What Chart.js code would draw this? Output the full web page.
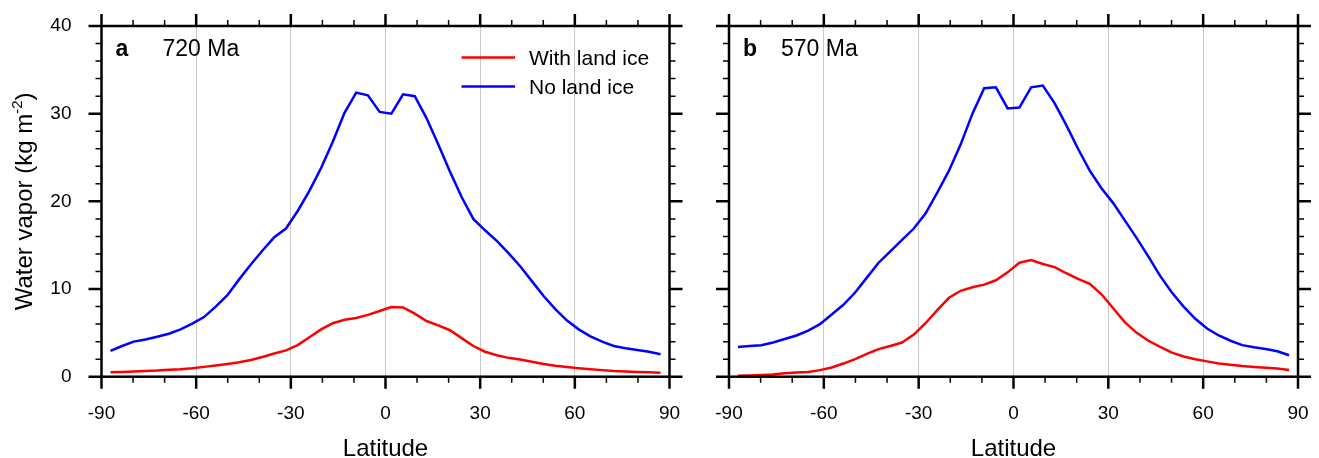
<!DOCTYPE html>
<html>
<head>
<meta charset="utf-8">
<script src="https://cdn.jsdelivr.net/npm/chart.js@4"></script>
<style>
  html, body { margin: 0; padding: 0; background: #ffffff; }
  #wrap { position: relative; width: 1319px; height: 458px; }
  .panel { position: absolute; top: 0; height: 458px; }
  #panelA { left: 0; width: 700px; }
  #panelB { left: 700px; width: 619px; }
</style>
</head>
<body>
<div id="wrap">
  <div class="panel" id="panelA"><canvas id="chartA"></canvas></div>
  <div class="panel" id="panelB"><canvas id="chartB"></canvas></div>
</div>
<script>
// model latitudes (48-point Gaussian grid)
var lats = [-87.16, -83.48, -79.78, -76.07, -72.36, -68.65, -64.94, -61.23, -57.52, -53.81, -50.10, -46.39,
            -42.68, -38.97, -35.26, -31.54, -27.83, -24.12, -20.41, -16.70, -12.99, -9.28, -5.57, -1.86,
            1.86, 5.57, 9.28, 12.99, 16.70, 20.41, 24.12, 27.83, 31.54, 35.26, 38.97, 42.68, 46.39, 50.10,
            53.81, 57.52, 61.23, 64.94, 68.65, 72.36, 76.07, 79.78, 83.48, 87.16];

// panel a, 720 Ma
var aWithIce = [0.5, 0.55, 0.6, 0.65, 0.7, 0.78, 0.85, 0.97, 1.12, 1.28, 1.45, 1.65,
                1.9, 2.25, 2.65, 3.0, 3.6, 4.5, 5.4, 6.1, 6.5, 6.7, 7.05, 7.5,
                7.95, 7.9, 7.2, 6.35, 5.85, 5.3, 4.4, 3.5, 2.85, 2.45, 2.15, 1.95, 1.7, 1.45,
                1.25, 1.1, 0.97, 0.85, 0.75, 0.65, 0.58, 0.53, 0.5, 0.46];
var aNoIce = [2.95, 3.5, 4.0, 4.25, 4.55, 4.9, 5.4, 6.05, 6.8, 8.0, 9.3, 11.1,
              12.8, 14.4, 15.9, 16.9, 18.9, 21.2, 23.8, 26.8, 30.1, 32.4, 32.1, 30.2,
              30.0, 32.2, 32.0, 29.5, 26.5, 23.4, 20.5, 18.0, 16.7, 15.5, 14.1, 12.6, 10.9, 9.2,
              7.7, 6.4, 5.4, 4.6, 4.0, 3.5, 3.25, 3.05, 2.85, 2.55];

// panel b, 570 Ma
var bWithIce = [0.1, 0.13, 0.18, 0.25, 0.38, 0.48, 0.54, 0.75, 1.05, 1.5, 2.0, 2.6,
                3.15, 3.5, 3.9, 4.8, 6.1, 7.6, 9.0, 9.8, 10.2, 10.5, 11.0, 11.9,
                13.0, 13.3, 12.85, 12.5, 11.8, 11.15, 10.6, 9.4, 7.8, 6.2, 5.0, 4.1, 3.4, 2.75,
                2.3, 2.0, 1.75, 1.5, 1.35, 1.22, 1.12, 1.03, 0.93, 0.76];
var bNoIce = [3.4, 3.5, 3.6, 3.9, 4.3, 4.7, 5.25, 6.0, 7.1, 8.2, 9.6, 11.3,
              13.0, 14.3, 15.6, 16.9, 18.6, 21.0, 23.5, 26.5, 30.0, 32.9, 33.0, 30.6,
              30.7, 33.0, 33.2, 31.2, 28.7, 26.0, 23.5, 21.5, 19.8, 17.8, 15.8, 13.7, 11.5, 9.6,
              8.0, 6.6, 5.5, 4.7, 4.1, 3.6, 3.35, 3.15, 2.9, 2.45];

var xTicks = [-90, -60, -30, 0, 30, 60, 90];
var yTicks = [0, 10, 20, 30, 40];
var seriesNames = ['With land ice', 'No land ice'];
var seriesColors = ['#ff0000', '#0000ff'];

var FONT = '"Liberation Sans", Arial, Helvetica, sans-serif';

function pairs(ys) {
    return lats.map(function (lat, i) { return { x: lat, y: ys[i] }; });
}

// frame, outward major/minor ticks on all four sides, texts
var framePlugin = {
    id: 'frame',
    afterDraw: function (chart) {
        var o = chart.options.plugins.frame;
        var ctx = chart.ctx;
        var a = chart.chartArea;
        var xs = chart.scales.x, ys = chart.scales.y;
        ctx.save();
        ctx.strokeStyle = '#000';
        ctx.lineCap = 'butt';

        // x ticks every 10, major every 30
        for (var v = -90; v <= 90; v += 10) {
            var px = xs.getPixelForValue(v);
            var major = v % 30 === 0;
            var len = major ? 12 : 6;
            ctx.lineWidth = major ? 2.5 : 1.5;
            ctx.beginPath();
            ctx.moveTo(px, a.bottom); ctx.lineTo(px, a.bottom + len);
            ctx.moveTo(px, a.top); ctx.lineTo(px, a.top - len);
            ctx.stroke();
        }
        // y ticks every 2, major every 10
        for (var w = 0; w <= 40; w += 2) {
            var py = ys.getPixelForValue(w);
            var maj = w % 10 === 0;
            var l2 = maj ? 13 : 6;
            ctx.lineWidth = maj ? 2.5 : 1.5;
            ctx.beginPath();
            ctx.moveTo(a.left, py); ctx.lineTo(a.left - l2, py);
            ctx.moveTo(a.right, py); ctx.lineTo(a.right + l2, py);
            ctx.stroke();
        }
        ctx.lineWidth = 2.5;
        ctx.strokeRect(a.left, a.top, a.right - a.left, a.bottom - a.top);

        // panel letter and age
        ctx.fillStyle = '#000';
        ctx.textBaseline = 'alphabetic';
        ctx.textAlign = 'left';
        ctx.font = 'bold 23px ' + FONT;
        ctx.fillText(o.letter, a.left + 14, 55.5);
        ctx.font = '23px ' + FONT;
        ctx.fillText(o.age, a.left + o.ageOffset, 55.5);

        // x title
        ctx.textAlign = 'center';
        ctx.font = '24px ' + FONT;
        ctx.fillText('Latitude', (a.left + a.right) / 2, 456);

        // legend
        if (o.legend) {
            ctx.textAlign = 'left';
            ctx.font = '21px ' + FONT;
            chart.data.datasets.forEach(function (ds, i) {
                var ly = 57.5 + i * 29;
                ctx.strokeStyle = ds.borderColor;
                ctx.lineWidth = 2.5;
                ctx.beginPath();
                ctx.moveTo(461.5, ly); ctx.lineTo(515, ly);
                ctx.stroke();
                ctx.fillStyle = '#000';
                ctx.fillText(ds.label, 529, ly + 7.5);
            });
        }

        // y title with superscript
        if (o.yTitle) {
            ctx.translate(32, (a.top + a.bottom) / 2);
            ctx.rotate(-Math.PI / 2);
            ctx.textAlign = 'left';
            var big = '24px ' + FONT, small = '15px ' + FONT;
            ctx.font = big;
            var t1 = 'Water vapor (kg m', t3 = ')';
            var w1 = ctx.measureText(t1).width, w3 = ctx.measureText(t3).width;
            ctx.font = small;
            var w2 = ctx.measureText('-2').width;
            var x0 = -(w1 + w2 + w3) / 2;
            ctx.fillStyle = '#000';
            ctx.font = big;
            ctx.fillText(t1, x0, 0);
            ctx.font = small;
            ctx.fillText('-2', x0 + w1, -10);
            ctx.font = big;
            ctx.fillText(t3, x0 + w1 + w2, 0);
        }
        ctx.restore();
    }
};

function makeChart(id, withIce, noIce, letter, age, showY, yWidth) {
    var ctx = document.getElementById(id).getContext('2d');
    return new Chart(ctx, {
        type: 'line',
        data: {
            datasets: [
                { label: seriesNames[0], data: pairs(withIce), borderColor: seriesColors[0], borderWidth: 2.5 },
                { label: seriesNames[1], data: pairs(noIce), borderColor: seriesColors[1], borderWidth: 2.5 }
            ]
        },
        plugins: [framePlugin],
        options: {
            responsive: true,
            maintainAspectRatio: false,
            animation: false,
            layout: { padding: { top: 26, right: showY ? 30.5 : 21, left: 0, bottom: 0 } },
            elements: { point: { radius: 0 }, line: { tension: 0, fill: false } },
            plugins: {
                legend: { display: false },
                tooltip: { enabled: false },
                frame: { letter: letter, age: age, ageOffset: showY ? 61 : 52, legend: showY, yTitle: showY }
            },
            scales: {
                x: {
                    type: 'linear', min: -90, max: 90,
                    afterBuildTicks: function (s) { s.ticks = xTicks.map(function (v) { return { value: v }; }); },
                    afterFit: function (s) {
                        s.height = 458 - 376.7;
                        s.paddingLeft = 0; s.paddingRight = 0;
                    },
                    grid: {
                        drawTicks: false,
                        color: function (c) {
                            var v = c.tick ? c.tick.value : 0;
                            return (v > -90 && v < 90) ? '#c8c8c8' : 'rgba(0,0,0,0)';
                        },
                        lineWidth: 1
                    },
                    border: { display: false },
                    ticks: { color: '#000', font: { family: FONT, size: 19 }, padding: 26, maxRotation: 0 }
                },
                y: {
                    type: 'linear', min: 0, max: 40,
                    afterBuildTicks: function (s) { s.ticks = yTicks.map(function (v) { return { value: v }; }); },
                    afterFit: function (s) {
                        s.width = yWidth;
                        s.paddingTop = 0; s.paddingBottom = 0;
                    },
                    grid: { display: false, drawTicks: false },
                    border: { display: false },
                    ticks: { display: showY, color: '#000', font: { family: FONT, size: 19 }, padding: 30 }
                }
            }
        }
    });
}

makeChart('chartA', aWithIce, aNoIce, 'a', '720 Ma', true, 101.5);
makeChart('chartB', bWithIce, bNoIce, 'b', '570 Ma', false, 29);
</script>
</body>
</html>
